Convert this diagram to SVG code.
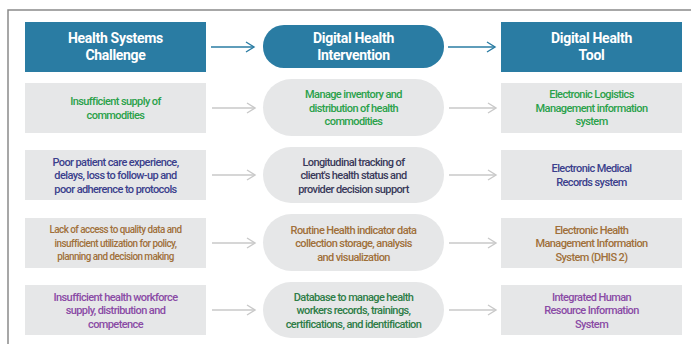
<svg xmlns="http://www.w3.org/2000/svg" width="691" height="344" viewBox="0 0 691 344">
<defs>
<style>
.hdr{fill:#2a7ca3}
.cell{fill:#e6e7e8}
.ht{font-family:Roboto,"Liberation Sans",sans-serif;font-weight:700;font-size:14px;fill:#fff;text-anchor:middle;letter-spacing:-0.3px}
.t{font-family:Roboto,"Liberation Sans",sans-serif;font-weight:500;font-size:11px;text-anchor:middle;letter-spacing:-0.6px}
.g{fill:#2aa14a}.n{fill:#3b3f8c}.b{fill:#a0703a}.p{fill:#8a4ba5}.d{fill:#3a3a5a}.dg{fill:#2e7d47}
.ca{stroke:#2a7ca3;stroke-width:1.6;fill:none}
.ga{stroke:#c9c9c9;stroke-width:1.6;fill:none}
</style>
<marker id="mb" markerWidth="12" markerHeight="12" refX="9" refY="6" orient="auto" markerUnits="userSpaceOnUse">
<path d="M1,1 L9,6 L1,11" fill="none" stroke="#2a7ca3" stroke-width="1.4"/>
</marker>
<marker id="mg" markerWidth="12" markerHeight="12" refX="9" refY="6" orient="auto" markerUnits="userSpaceOnUse">
<path d="M1,1 L9,6 L1,11" fill="none" stroke="#c9c9c9" stroke-width="1.4"/>
</marker>
</defs>
<rect width="691" height="344" fill="#fff"/>
<path d="M8,344 L8,10 L691,10" fill="none" stroke="#8a8a8a" stroke-width="1.5"/>

<g id="connectors">
<line class="ca" x1="211" y1="47" x2="254" y2="47" marker-end="url(#mb)"/>
<line class="ca" x1="448" y1="47" x2="495" y2="47" marker-end="url(#mb)"/>
<line class="ga" x1="212" y1="108" x2="255" y2="108" marker-end="url(#mg)"/>
<line class="ga" x1="449" y1="108" x2="496" y2="108" marker-end="url(#mg)"/>
<line class="ga" x1="212" y1="175" x2="255" y2="175" marker-end="url(#mg)"/>
<line class="ga" x1="449" y1="175" x2="496" y2="175" marker-end="url(#mg)"/>
<line class="ga" x1="212" y1="243" x2="255" y2="243" marker-end="url(#mg)"/>
<line class="ga" x1="449" y1="243" x2="496" y2="243" marker-end="url(#mg)"/>
<line class="ga" x1="212" y1="310" x2="255" y2="310" marker-end="url(#mg)"/>
<line class="ga" x1="449" y1="310" x2="496" y2="310" marker-end="url(#mg)"/>
</g>

<g id="h1"><rect class="hdr" x="25" y="22" width="181" height="50"/>
<text class="ht" x="115.5" y="43">Health Systems</text><text class="ht" x="115.5" y="60">Challenge</text></g>
<g id="h2"><rect class="hdr" x="263" y="25" width="181" height="43" rx="21"/>
<text class="ht" x="353.5" y="43">Digital Health</text><text class="ht" x="353.5" y="60">Intervention</text></g>
<g id="h3"><rect class="hdr" x="501" y="22" width="181" height="50"/>
<text class="ht" x="591.5" y="43">Digital Health</text><text class="ht" x="591.5" y="60">Tool</text></g>

<g id="r1c1"><rect class="cell" x="25" y="83" width="181" height="50"/>
<text class="t g" x="115.5" y="105">Insufficient supply of</text><text class="t g" x="115.5" y="118.5">commodities</text></g>
<g id="r1c2"><rect class="cell" x="263" y="79" width="181" height="57" rx="28.5"/>
<text class="t g" x="353.5" y="98">Manage inventory and</text><text class="t g" x="353.5" y="111.5">distribution of health</text><text class="t g" x="353.5" y="125">commodities</text></g>
<g id="r1c3"><rect class="cell" x="501" y="83" width="181" height="50"/>
<text class="t g" x="591.5" y="98">Electronic Logistics</text><text class="t g" x="591.5" y="111.5">Management information</text><text class="t g" x="591.5" y="125">system</text></g>

<g id="r2c1"><rect class="cell" x="25" y="150" width="181" height="50"/>
<text class="t n" x="115.5" y="166">Poor patient care experience,</text><text class="t n" x="115.5" y="179">delays, loss to follow-up and</text><text class="t n" x="115.5" y="192.5">poor adherence to protocols</text></g>
<g id="r2c2"><rect class="cell" x="263" y="147" width="181" height="56" rx="28"/>
<text class="t d" x="353.5" y="166">Longitudinal tracking of</text><text class="t d" x="353.5" y="179">client's health status and</text><text class="t d" x="353.5" y="192.5">provider decision support</text></g>
<g id="r2c3"><rect class="cell" x="501" y="150" width="181" height="50"/>
<text class="t n" x="591.5" y="172">Electronic Medical</text><text class="t n" x="591.5" y="186">Records system</text></g>

<g id="r3c1"><rect class="cell" x="25" y="218" width="181" height="50"/>
<g transform="translate(115.5 0) scale(0.9 1)">
<text class="t b" x="0" y="233.5">Lack of access to quality data and</text><text class="t b" x="0" y="247">insufficient utilization for policy,</text><text class="t b" x="0" y="260.5">planning and decision making</text></g></g>
<g id="r3c2"><rect class="cell" x="263" y="214" width="181" height="57" rx="28.5"/>
<text class="t b" x="353.5" y="233.5">Routine Health indicator data</text><text class="t b" x="353.5" y="247">collection storage, analysis</text><text class="t b" x="353.5" y="260.5">and visualization</text></g>
<g id="r3c3"><rect class="cell" x="501" y="218" width="181" height="50"/>
<text class="t b" x="591.5" y="233.5">Electronic Health</text><text class="t b" x="591.5" y="247">Management Information</text><text class="t b" x="591.5" y="260.5">System (DHIS 2)</text></g>

<g id="r4c1"><rect class="cell" x="25" y="285" width="181" height="50"/>
<text class="t p" x="115.5" y="301">Insufficient health workforce</text><text class="t p" x="115.5" y="314">supply, distribution and</text><text class="t p" x="115.5" y="328">competence</text></g>
<g id="r4c2"><rect class="cell" x="263" y="282" width="181" height="56" rx="28"/>
<text class="t dg" x="353.5" y="301">Database to manage health</text><text class="t dg" x="353.5" y="314">workers records, trainings,</text><text class="t dg" x="353.5" y="328">certifications, and identification</text></g>
<g id="r4c3"><rect class="cell" x="501" y="285" width="181" height="50"/>
<text class="t p" x="591.5" y="301">Integrated Human</text><text class="t p" x="591.5" y="314">Resource Information</text><text class="t p" x="591.5" y="328">System</text></g>
</svg>
